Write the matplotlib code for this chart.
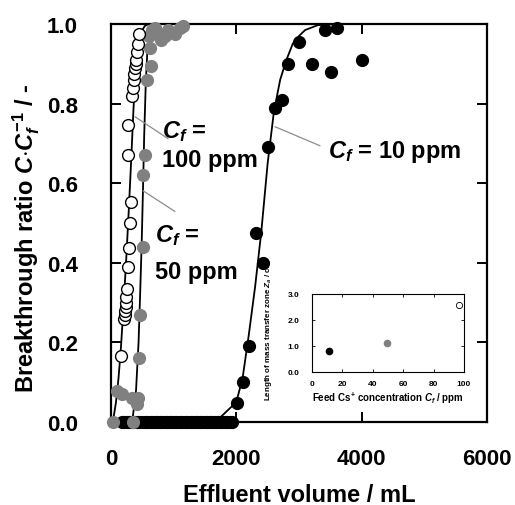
import numpy as np
import matplotlib
matplotlib.use('Agg')
import matplotlib.pyplot as plt

plt.rcParams['font.family'] = ['Liberation Sans', 'DejaVu Sans']
plt.rcParams['font.weight'] = 'bold'
plt.rcParams['mathtext.fontset'] = 'custom'
plt.rcParams['mathtext.it'] = 'Liberation Sans:italic:bold'
plt.rcParams['mathtext.rm'] = 'Liberation Sans:bold'
plt.rcParams['mathtext.bf'] = 'Liberation Sans:bold'

#  Cf = 10 ppm (filled black), points still at zero
vol_10_base = [175, 215, 255, 295, 335, 375, 415, 455, 495, 535, 575, 615,
               655, 695, 735, 775, 815, 855, 895, 935, 975, 1015, 1055,
               1095, 1135, 1175, 1215, 1255, 1295, 1335, 1375, 1415, 1455,
               1495, 1535, 1575, 1615, 1655, 1695, 1735, 1775, 1815, 1855,
               1895, 1935]
#  Cf = 10 ppm, breakthrough part
vol_10 = [2010, 2107, 2207, 2314, 2426, 2505, 2617, 2729, 2825, 3000, 3208,
          3415, 3511, 3607, 4005]
ratio_10 = [0.048, 0.10, 0.19, 0.474, 0.40, 0.692, 0.79, 0.81, 0.90, 0.955,
            0.90, 0.985, 0.88, 0.99, 0.91]

#  Cf = 50 ppm (gray)
vol_50 = [30, 350, 100, 175, 335, 415, 430, 447, 463, 510, 510, 543, 575,
          640, 630, 600, 660, 700, 760, 800, 860, 910, 1020, 1100, 1150]
ratio_50 = [0.0, 0.0, 0.078, 0.07, 0.06, 0.045, 0.06, 0.16, 0.27, 0.44,
            0.62, 0.67, 0.86, 0.895, 0.94, 0.97, 0.985, 0.99, 0.975, 0.96,
            0.97, 0.985, 0.975, 0.99, 0.995]

#  Cf = 100 ppm (open)
vol_100 = [160, 210, 218, 225, 232, 238, 245, 250, 271, 280, 303, 319, 270,
           272, 335, 350, 365, 375, 385, 395, 405, 415, 430, 447]
ratio_100 = [0.165, 0.26, 0.27, 0.28, 0.29, 0.30, 0.315, 0.335, 0.39, 0.436,
             0.50, 0.554, 0.67, 0.745, 0.82, 0.84, 0.86, 0.875, 0.89, 0.90,
             0.91, 0.93, 0.95, 0.975]

#  fitted curves
fit_x_10 = [0, 1600, 1700, 1800, 1900, 2000, 2100, 2200, 2300, 2400, 2500,
            2600, 2700, 2800, 2900, 3000, 3100, 3300, 3600, 4000]
fit_y_10 = [0, 0, 0.005, 0.02, 0.035, 0.05, 0.11, 0.22, 0.34, 0.48, 0.65,
            0.78, 0.86, 0.91, 0.95, 0.97, 0.985, 0.997, 1.0, 1.0]
fit_x_50 = [0, 200, 300, 350, 400, 440, 465, 490, 510, 530, 555, 580, 620,
            680, 780, 1000]
fit_y_50 = [0, 0, 0.005, 0.015, 0.08, 0.2, 0.32, 0.45, 0.58, 0.72, 0.85,
            0.93, 0.97, 0.99, 1.0, 1.0]
fit_x_100 = [0, 40, 80, 120, 160, 200, 240, 280, 320, 360, 400, 440, 480,
             540, 600]
fit_y_100 = [0, 0.01, 0.05, 0.11, 0.19, 0.29, 0.40, 0.52, 0.65, 0.79, 0.89,
             0.95, 0.98, 0.995, 1.0]

#  inset: mass transfer zone length vs feed concentration
inset_conc = [11, 49, 97]
inset_len = [0.79, 1.11, 2.58]

x_ticks = [0, 2000, 4000, 6000]
y_ticks = [0.0, 0.2, 0.4, 0.6, 0.8, 1.0]

gray = '#808080'

fig = plt.figure(figsize=(5.15, 5.06), dpi=100)
ax = fig.add_axes([0.2155, 0.164, 0.7301, 0.7866])

ax.plot(fit_x_10, fit_y_10, color='k', lw=1.3, zorder=2)
ax.plot(fit_x_50, fit_y_50, color='k', lw=1.3, zorder=2)
ax.plot(fit_x_100, fit_y_100, color='k', lw=1.3, zorder=2)

ax.plot(vol_10_base, [0.0] * len(vol_10_base), 'o', color='k', ms=8.5,
        clip_on=False, zorder=3)
ax.plot(vol_10, ratio_10, 'o', color='k', ms=8.5, clip_on=False, zorder=3)
ax.plot(vol_50, ratio_50, 'o', color=gray, mec=gray, ms=8.5, clip_on=False,
        zorder=4)
ax.plot(vol_100, ratio_100, 'o', mfc='white', mec='k', mew=1.0, ms=8.5,
        clip_on=False, zorder=5)

ax.set_xlim(0, 6000)
ax.set_ylim(0, 1.0)
ax.set_xticks(x_ticks)
ax.set_yticks(y_ticks)
ax.set_yticklabels(['%.1f' % v for v in y_ticks])
ax.tick_params(direction='in', length=7, width=1.4, top=True, right=True,
               labelsize=16)
ax.tick_params(axis='x', pad=19)
ax.tick_params(axis='y', pad=24)
for sp in ax.spines.values():
    sp.set_linewidth(1.6)

ax.set_xlabel('Effluent volume / mL', fontsize=17, fontweight='bold')
ax.set_ylabel(r'Breakthrough ratio $C$$\cdot$$C_{f}^{-1}$ / -', fontsize=17,
              fontweight='bold')
ax.xaxis.set_label_coords(0.5, -0.153)
ax.yaxis.set_label_coords(-0.183, 0.465)

#  labels with leader lines
line_kw = dict(arrowstyle='-', color='#8c8c8c', lw=0.9, shrinkA=0, shrinkB=0)
ax.annotate('', xy=(2617, 0.742), xytext=(3336, 0.694), arrowprops=line_kw)
ax.annotate('', xy=(383, 0.767), xytext=(910, 0.712), arrowprops=line_kw)
ax.annotate('', xy=(511, 0.581), xytext=(1021, 0.529), arrowprops=line_kw)

txt_kw = dict(fontsize=17, fontweight='bold', ha='left', va='baseline')
ax.text(3463, 0.667, r'$C_{f}$ = 10 ppm', **txt_kw)
ax.text(814, 0.717, r'$C_{f}$ =', **txt_kw)
ax.text(814, 0.642, '100 ppm', **txt_kw)
ax.text(702, 0.454, r'$C_{f}$ =', **txt_kw)
ax.text(702, 0.361, '50 ppm', **txt_kw)

#  inset
axi = fig.add_axes([0.606, 0.263, 0.295, 0.154])
axi.plot(inset_conc[0], inset_len[0], 'o', color='k', ms=4.5)
axi.plot(inset_conc[1], inset_len[1], 'o', color=gray, mec=gray, ms=4.5)
axi.plot(inset_conc[2], inset_len[2], 'o', mfc='white', mec='k', mew=0.6,
         ms=4.5)
axi.set_xlim(0, 100)
axi.set_ylim(0, 3.0)
axi.set_xticks([0, 20, 40, 60, 80, 100])
axi.set_yticks([0.0, 1.0, 2.0, 3.0])
axi.set_yticklabels(['0.0', '1.0', '2.0', '3.0'])
axi.tick_params(direction='in', length=2, width=0.6, top=True, right=True,
                labelsize=6)
axi.tick_params(axis='x', pad=6)
axi.tick_params(axis='y', pad=9)
for sp in axi.spines.values():
    sp.set_linewidth(0.8)
axi.set_xlabel(r'Feed Cs$^{+}$ concentration $C_{f}$ / ppm', fontsize=7,
               fontweight='bold', labelpad=2)
axi.set_ylabel(r'Length of mass transfer zone $Z_{a}$ / cm', fontsize=5.8,
               fontweight='bold')
axi.yaxis.set_label_coords(-0.25, 0.55)

fig.savefig('out.png', dpi=100)
